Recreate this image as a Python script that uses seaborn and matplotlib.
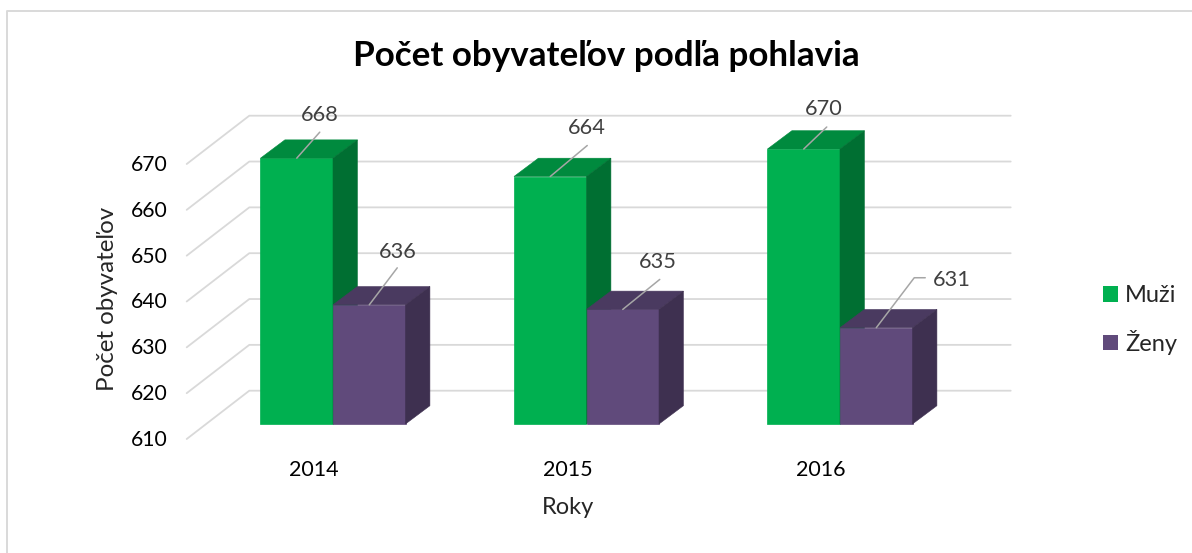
import pandas as pd
import seaborn as sns
import matplotlib.pyplot as plt
from matplotlib.patches import Polygon
from matplotlib.lines import Line2D
from matplotlib.transforms import ScaledTranslation

# ---Data---
years = ["2014", "2015", "2016"]
muzi = [668, 664, 670]
zeny = [636, 635, 631]
y_ticks = [610, 620, 630, 640, 650, 660, 670]
# ---Colors: front, top, side---
colors_muzi = ["#00B050", "#008A3E", "#006F32"]
colors_zeny = ["#604A7B", "#4A3A60", "#3E3050"]
grid_color = "#D9D9D9"

df = pd.DataFrame({
    "Rok": years * 2,
    "Pocet": muzi + zeny,
    "Pohlavie": ["Muži"] * len(years) + ["Ženy"] * len(years),
})

W, H = 1192, 553
sns.set_style("white")
plt.rcParams["font.family"] = ["Lato", "DejaVu Sans"]

fig = plt.figure(figsize=(W / 100, H / 100), dpi=100)
# axes box = front plane of the bars, pixels from top-left
left, right, top, bottom = 186.7, 1010.7, 149, 424
ax = fig.add_axes([left / W, 1 - bottom / H, (right - left) / W, (bottom - top) / H])
ax.patch.set_alpha(0)

sns.barplot(data=df, x="Rok", y="Pocet", hue="Pohlavie", palette=[colors_muzi[0], colors_zeny[0]],
            width=0.572, gap=0, saturation=1, linewidth=0, ax=ax)

px_x = 253.5  # pixels per category
px_y = (bottom - top) / (y_ticks[-1] - y_ticks[0])  # pixels per unit
xmin = (left - 333) / px_x
xmax = (right - 333) / px_x
ax.set_xlim(xmin, xmax)
ax.set_ylim(y_ticks[0], y_ticks[-1])
sns.despine(ax=ax, left=True, bottom=True)

# --- walls: back gridline plus the slanted part on the left ---
for v in y_ticks:
    ax.plot([xmin, xmin + 62.6 / px_x, xmax], [v - 15 / px_y, v + 33.3 / px_y, v + 33.3 / px_y],
            color=grid_color, lw=1.3, clip_on=False, zorder=1)

# --- 3D faces of the bars ---
dx = 24.4 / px_x
dy = 18.3 / px_y
for z, (cont, cols) in enumerate(zip(ax.containers, [colors_muzi, colors_zeny])):
    for bar in cont:
        x0 = bar.get_x()
        x1 = x0 + bar.get_width()
        v = bar.get_height()
        base = y_ticks[0]
        bar.set_zorder(3 + z)
        bar.set_edgecolor(cols[0])
        bar.set_linewidth(0.5)
        bar.set_clip_on(False)
        bar.set_y(base)
        bar.set_height(v - base)
        ax.add_patch(Polygon([(x0, v), (x1, v), (x1 + dx, v + dy), (x0 + dx, v + dy)],
                             facecolor=cols[1], edgecolor=cols[1], lw=0.4, clip_on=False, zorder=3 + z))
        ax.add_patch(Polygon([(x1, base), (x1 + dx, base + dy), (x1 + dx, v + dy), (x1, v)],
                             facecolor=cols[2], edgecolor=cols[2], lw=0.4, clip_on=False, zorder=3 + z))

# --- data labels with leader lines, offsets in pixels from the bar top ---
leaders = [
    [[(23, 26)], [(37, 31)], [(23, 22)]],
    [[(28, 37)], [(37, 30)], [(38, 50), (49, 50)]],
]
label_pos = [
    [(23, 43), (37, 48), (20, 40)],
    [(29, 53), (35, 47), (76, 48)],
]
for s, cont in enumerate(ax.containers):
    for i, bar in enumerate(cont):
        xc = bar.get_x() + bar.get_width() / 2
        v = bar.get_y() + bar.get_height()
        pts = [(0, 0)] + leaders[s][i]
        ax.plot([xc + p[0] / px_x for p in pts], [v + p[1] / px_y for p in pts],
                color="#A6A6A6", lw=1.1, clip_on=False, zorder=6)
        ax.annotate(str(int(v)), xy=(xc, v), xytext=label_pos[s][i], textcoords="offset pixels",
                    ha="center", va="center", fontsize=15.7, color="#404040", zorder=7)

# --- ticks ---
ax.set_yticks(y_ticks)
ax.tick_params(axis="y", length=0, pad=14, labelsize=15.2, labelcolor="black")
ax.tick_params(axis="x", length=0, pad=26, labelsize=15.5, labelcolor="black")
for lab in ax.get_yticklabels():
    lab.set_transform(lab.get_transform() + ScaledTranslation(0, -14 / 100, fig.dpi_scale_trans))
for lab in ax.get_xticklabels():
    lab.set_transform(lab.get_transform() + ScaledTranslation(-19 / 100, 0, fig.dpi_scale_trans))

ax.set_xlabel("Roky", fontsize=17)
ax.set_ylabel("Počet obyvateľov", fontsize=17.4)
ax.xaxis.set_label_coords(568 / W, 1 - 497 / H, transform=fig.transFigure)
ax.yaxis.set_label_coords(118 / W, 1 - 299 / H, transform=fig.transFigure)

fig.suptitle("Počet obyvateľov podľa pohlavia", x=606 / W, y=1 - 56 / H, va="center",
             fontsize=25.2, fontweight="bold", color="black")

# --- legend ---
handles, labels = ax.get_legend_handles_labels()
ax.legend(handles, labels, loc="center left", bbox_to_anchor=(1082 / W, 1 - 320 / H),
          bbox_transform=fig.transFigure, frameon=False, fontsize=17, handlelength=0.63,
          handleheight=0.63, handletextpad=0.3, labelspacing=0.98)

# --- chart frame, only top and left are in the picture ---
fig.add_artist(Line2D([7 / W, 7 / W, 1], [0, 1 - 11 / H, 1 - 11 / H], transform=fig.transFigure,
                      color=grid_color, lw=1.4))

fig.savefig("out.png", dpi=100)
